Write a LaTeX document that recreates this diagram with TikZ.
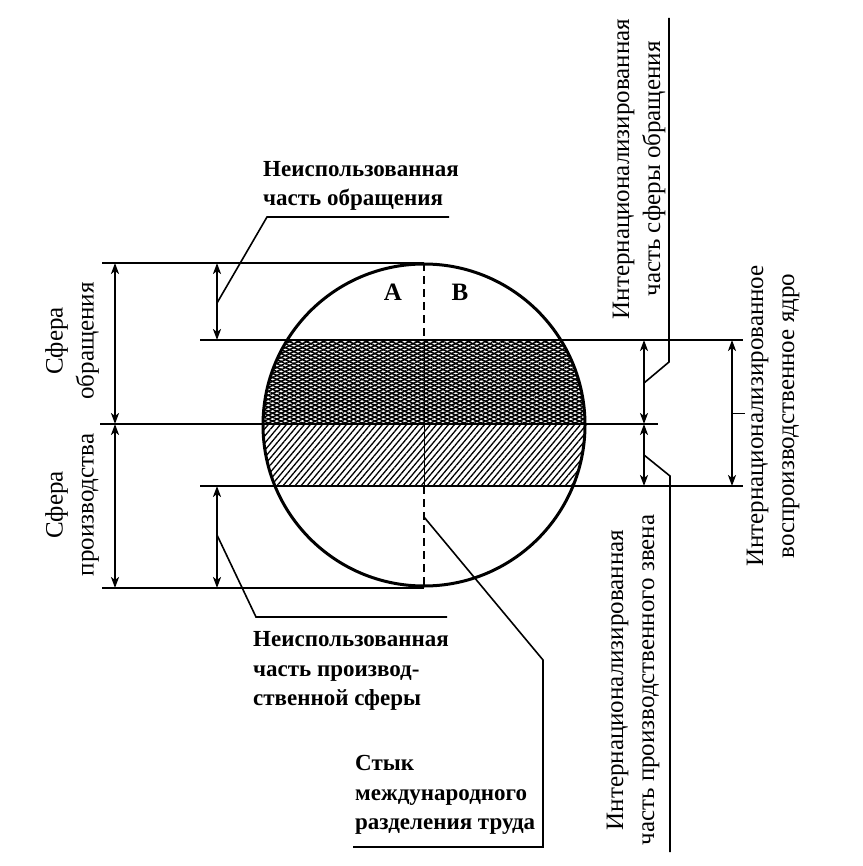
\documentclass[tikz,border=0pt]{standalone}
\usepackage{fontspec}
\setmainfont{Liberation Serif}
\usetikzlibrary{arrows.meta,patterns.meta}
\begin{document}
\begin{tikzpicture}[x=1pt,y=-1pt,
  hline/.style={line width=2.4pt},
  tip/.tip={Stealth[length=11pt,width=8pt,inset=3pt]},
  dim/.style={line width=2.2pt,tip-tip},
  leader/.style={line width=1.6pt},
  lbl/.style={font=\fontsize{23}{29.5}\selectfont\bfseries, align=left, inner sep=0pt, anchor=west},
  rlbl/.style={font=\fontsize{25}{31}\selectfont, align=center, inner sep=0pt, rotate=90},
  ab/.style={font=\fontsize{25}{28}\selectfont\bfseries, inner sep=0pt},
]
\useasboundingbox (0,0) rectangle (862,866);
% circle
\coordinate (C) at (424,425);
\begin{scope}
  \clip (C) circle (161pt);
  \fill[pattern={Lines[angle=25,distance=3.6pt,line width=1.5pt]}] (250,340) rectangle (600,424);
  \fill[pattern={Lines[angle=-25,distance=3.6pt,line width=1.5pt]}] (250,340) rectangle (600,424);
  \fill[pattern={Lines[angle=50,distance=4.6pt,line width=1.3pt]}] (250,424) rectangle (600,486);
\end{scope}
\node[circle, draw, line width=3pt, minimum size=322pt, inner sep=0pt] (circ) at (C) {};
% horizontal lines
\coordinate (l1a) at (102,263); \coordinate (l1b) at (424,263);
\coordinate (l2a) at (200,340); \coordinate (l2b) at (743,340);
\coordinate (l3a) at (100,424); \coordinate (l3b) at (658,424);
\coordinate (l4a) at (200,486); \coordinate (l4b) at (743,486);
\coordinate (l5a) at (102,588); \coordinate (l5b) at (424,588);
\draw[hline] (l1a) -- (l1b);
\draw[hline] (l2a) -- (l2b);
\draw[hline] (l3a) -- (l3b);
\draw[hline] (l4a) -- (l4b);
\draw[hline] (l5a) -- (l5b);
% dashed junction line
\coordinate (d1) at (424,263); \coordinate (d2) at (424,340);
\coordinate (d3) at (424,486); \coordinate (d4) at (424,588);
\draw[line width=1.8pt, dash pattern=on 8pt off 5pt] (d1) -- (d2);
\draw[line width=1pt] (d2) -- (d3);
\draw[line width=1.8pt, dash pattern=on 8pt off 5pt] (d3) -- (d4);
% dimension arrows
\draw[dim] (115,263) -- (115,424);
\draw[dim] (115,424) -- (115,588);
\draw[dim] (217,263) -- (217,340);
\draw[dim] (217,486) -- (217,588);
\draw[dim] (644,340) -- (644,424);
\draw[dim] (644,424) -- (644,486);
\draw[dim] (732,340) -- (732,486);
\coordinate (t1) at (732,413); \coordinate (t2) at (745,413);
\draw[line width=1pt] (t1) -- (t2);
% labels
\node[ab] (A) at (393,292) {A};
\node[ab] (B) at (460,292) {B};
\node[lbl] (top) at (263,186) {Неиспользованная\\часть обращения};
\node[lbl] (bot) at (253,671) {Неиспользованная\\часть производ-\\ственной сферы};
\node[lbl] (styk) at (355,795) {Стык\\международного\\разделения труда};
\node[rlbl] (so) at (72,341) {Сфера\\обращения};
\node[rlbl] (sp) at (72,505) {Сфера\\производства};
\node[rlbl] (rt) at (639,169) {Интернационализированная\\часть сферы обращения};
\node[rlbl] (rm) at (773,416) {Интернационализированное\\воспроизводственное ядро};
\node[rlbl] (rb) at (633,680) {Интернационализированная\\часть производственного звена};
% leaders
\coordinate (a1) at (217,303); \coordinate (a2) at (267,217); \coordinate (a3) at (449,217);
\draw[leader] (a1) -- (a2) -- (a3);
\coordinate (b1) at (217,535); \coordinate (b2) at (256,617); \coordinate (b3) at (447,617);
\draw[leader] (b1) -- (b2) -- (b3);
\coordinate (s1) at (424,517); \coordinate (s2) at (543,660); \coordinate (s3) at (543,847); \coordinate (s4) at (353,847);
\draw[leader] (s1) -- (s2) -- (s3) -- (s4);
\coordinate (r1) at (644,383); \coordinate (r2) at (669,362); \coordinate (r3) at (669,18);
\draw[leader] (r1) -- (r2) -- (r3);
\coordinate (q1) at (644,455); \coordinate (q2) at (670,476); \coordinate (q3) at (670,852);
\draw[leader] (q1) -- (q2) -- (q3);
\end{tikzpicture}
\end{document}
